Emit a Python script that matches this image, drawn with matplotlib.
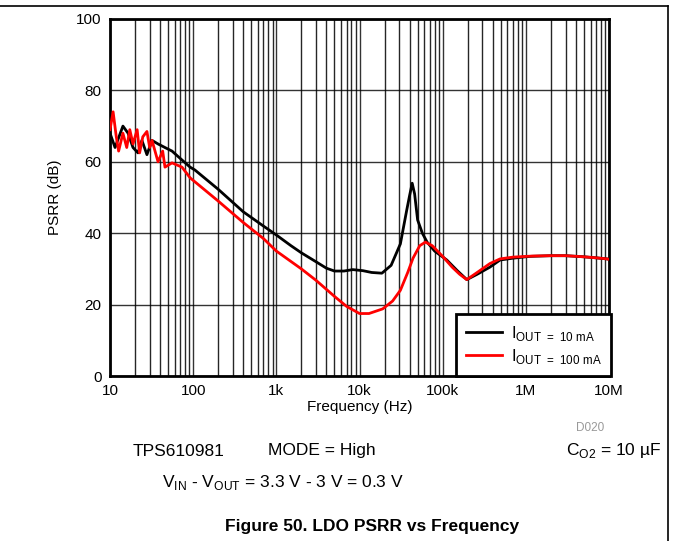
import matplotlib
matplotlib.use("Agg")
import matplotlib.pyplot as plt
from matplotlib.lines import Line2D
import numpy as np

plt.rcParams['font.family'] = ['Liberation Sans', 'DejaVu Sans']
plt.rcParams['mathtext.fontset'] = 'custom'
plt.rcParams['mathtext.rm'] = 'Liberation Sans'

# Data (frequency in Hz, PSRR in dB)
f_10mA = [10, 11.5, 14.3, 16.5, 18.9, 21.7, 24.2, 27.8, 32, 37.8, 45.8, 55.7, 73.4, 92, 105,
          200, 400, 700, 1000, 1500, 2000, 3000, 4000, 5000, 6500, 8300, 11000, 14000, 18600,
          24000, 31000, 37000, 40000, 43000, 46000, 50000, 57000, 65000, 80000,
          112000, 150000, 195000, 260000, 370000, 490000, 700000, 1100000, 2000000,
          3000000, 4900000, 7000000, 9500000, 10000000]
db_10mA = [68, 64, 70, 68, 64, 62.5, 66, 62, 66, 65, 64, 63, 60.5, 58.5, 57.7,
           52.3, 46, 42, 39.5, 36.5, 34.5, 32, 30.2, 29.4, 29.4, 29.8, 29.5, 29, 28.8,
           31, 37, 46.5, 50.5, 54, 51, 43.7, 40, 37.5, 35,
           32.5, 29.5, 27, 28.5, 30.5, 32.5, 33, 33.5, 33.7,
           33.7, 33.4, 33.1, 32.8, 32.7]

f_100mA = [10, 10.9, 11.9, 12.7, 14.3, 15.9, 17.3, 18.9, 21.2, 22.7, 24.8, 27.8, 30, 32,
           37.8, 43, 45.8, 55.7, 73.4, 92, 200, 400, 700, 1000, 2000, 3000, 5000,
           7000, 10000, 13000, 19000, 25000, 31000, 38000, 44000, 53000, 62000, 75000,
           100000, 130000, 160000, 195000, 260000, 370000, 490000, 700000, 1200000,
           2000000, 3000000, 4900000, 7000000, 9500000, 10000000]
db_100mA = [69, 74, 67, 63, 68, 64, 69, 65, 69, 62.5, 67, 68.5, 64, 66,
            60, 63, 58.5, 59.7, 58.5, 55.5, 49, 43, 38.5, 35, 30, 26.8, 22.3,
            19.5, 17.5, 17.5, 18.8, 21, 24, 29, 33, 36.5, 37.5, 36.5,
            33.5, 30.5, 28.5, 27, 29, 31.5, 32.8, 33.3, 33.6,
            33.7, 33.7, 33.4, 33.1, 32.8, 32.7]

xticks = [10, 100, 1e3, 1e4, 1e5, 1e6, 1e7]
xtick_labels = ['10', '100', '1k', '10k', '100k', '1M', '10M']
yticks = [0, 20, 40, 60, 80, 100]

fig = plt.figure(figsize=(6.73, 5.41), dpi=100)
ax = fig.add_axes([110/673, 1-376/541, 499/673, 357/541])

ax.plot(f_10mA, db_10mA, color='black', lw=2, label=r'I$_\mathregular{OUT\ =\ 10\ mA}$', zorder=3)
ax.plot(f_100mA, db_100mA, color='#ff0000', lw=2, label=r'I$_\mathregular{OUT\ =\ 100\ mA}$', zorder=3)

ax.set_xscale('log')
ax.set_xlim(10, 1e7)
ax.set_ylim(0, 100)
ax.set_xticks(xticks)
ax.set_xticklabels(xtick_labels)
ax.set_yticks(yticks)
ax.xaxis.set_minor_formatter(matplotlib.ticker.NullFormatter())
ax.tick_params(axis='both', which='both', length=0, labelsize=11, pad=6)
ax.grid(True, which='major', axis='both', color='black', lw=1.0, alpha=0.8)
ax.grid(True, which='minor', axis='x', color='black', lw=1.0, alpha=0.85)
for s in ax.spines.values():
    s.set_linewidth(2)

ax.set_xlabel('Frequency (Hz)', fontsize=11, labelpad=1)
ax.set_ylabel('PSRR (dB)', fontsize=11, labelpad=10)

leg = ax.legend(loc='lower right', fontsize=12, frameon=True, fancybox=False,
                borderaxespad=0.0, handlelength=2.15, labelspacing=0.25,
                borderpad=0.6, handletextpad=0.5, bbox_to_anchor=(1.005, 0))
leg.get_frame().set_edgecolor('black')
leg.get_frame().set_linewidth(2)
leg.get_frame().set_alpha(1)

fig.text(590/673, 1-428/541, 'D020', fontsize=8.5, color='#999999', ha='center', va='center')
fig.text(133/673, 1-451/541, 'TPS610981', fontsize=12.5, ha='left', va='center')
fig.text(322/673, 1-451/541, 'MODE = High', fontsize=12.5, ha='center', va='center')
fig.text(661/673, 1-451/541, r'C$_\mathregular{O2}$ = 10 µF', fontsize=12.5, ha='right', va='center')
fig.text(162/673, 1-482/541, r'V$_\mathregular{IN}$ - V$_\mathregular{OUT}$ = 3.3 V - 3 V = 0.3 V',
         fontsize=12.5, ha='left', va='center')
fig.text(372/673, 1-527/541, 'Figure 50. LDO PSRR vs Frequency', fontsize=12.5,
         fontweight='bold', ha='center', va='center')

fig.add_artist(Line2D([0, 668/673], [1-6/541, 1-6/541], color='black', lw=1.2, transform=fig.transFigure))
fig.add_artist(Line2D([668/673, 668/673], [1-6/541, 0], color='black', lw=1.2, transform=fig.transFigure))

fig.savefig('out.png', dpi=100)
